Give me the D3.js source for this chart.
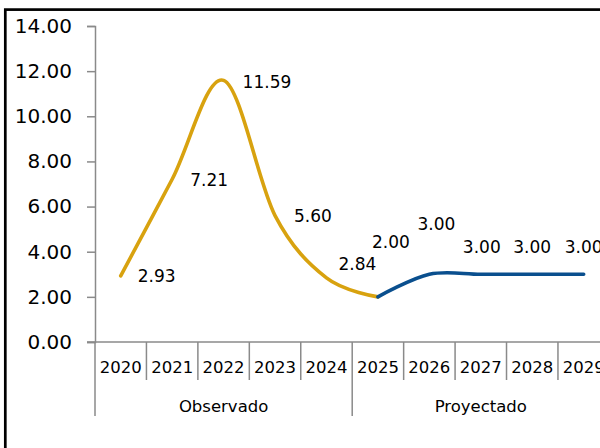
<!DOCTYPE html>
<html>
<head>
<meta charset="utf-8">
<script src="https://cdn.jsdelivr.net/npm/d3@7"></script>
<style>
  html, body { margin: 0; padding: 0; background: #fff; }
  svg { display: block; font-family: "DejaVu Sans", Verdana, sans-serif; }
</style>
</head>
<body>
<svg id="chart" width="600" height="448"></svg>
<script>
// ---- data ----
const years = ["2020","2021","2022","2023","2024","2025","2026","2027","2028","2029"];
const groups = [
  { name: "Observado", from: "2020", to: "2024" },
  { name: "Proyectado", from: "2025", to: "2029" }
];
const observedYears = ["2020","2021","2022","2023","2024","2025"];
const observedValues = [2.93, 7.21, 11.59, 5.60, 2.84, 2.00];
const projectedYears = ["2025","2026","2027","2028","2029"];
const projectedValues = [2.00, 3.00, 3.00, 3.00, 3.00];
const labelYears = years;
const labelValues = [2.93, 7.21, 11.59, 5.60, 2.84, 2.00, 3.00, 3.00, 3.00, 3.00];
const yTicks = [0, 2, 4, 6, 8, 10, 12, 14];

// ---- label placement (style config) ----
const labelNudge = [
  [17, 0, "start"], [18, 1, "start"], [19, 1, "start"], [19, 0, "start"], [12, -14, "start"],
  [13, -55, "middle"], [7, -50, "middle"], [1, -27, "middle"], [0, -27, "middle"], [0, -27, "middle"]
];

// ---- layout ----
const svg = d3.select("#chart");
const x = d3.scaleBand().domain(years).range([95, 609.4]).padding(0);
const y = d3.scaleLinear().domain([0, 14]).range([342, 26]);
const cx = d => x(d) + x.bandwidth() / 2;
const axisColor = "#8a8a8a";

// frame
svg.append("rect")
  .attr("x", 5.3).attr("y", 9.6).attr("width", 700).attr("height", 600)
  .attr("fill", "none").attr("stroke", "#000").attr("stroke-width", 2.7);

// y axis
const yAxis = d3.axisLeft(y).tickValues(yTicks).tickSize(8).tickPadding(15)
  .tickFormat(d3.format(".2f"));
const gy = svg.append("g").attr("transform", "translate(95,0)").call(yAxis);
gy.select(".domain").attr("stroke", axisColor).attr("stroke-width", 1.5);
gy.selectAll(".tick line").attr("stroke", axisColor).attr("stroke-width", 1.5);
gy.selectAll(".tick text").attr("fill", "#000").style("font-size", "20px")
  .style("font-family", "'DejaVu Sans', Verdana, sans-serif");

// x baseline
svg.append("line").attr("x1", 87).attr("x2", 620).attr("y1", y(0)).attr("y2", y(0))
  .attr("stroke", axisColor).attr("stroke-width", 1.5);

// year dividers
const boundaries = years.map(d => x(d)).concat([x(years[years.length - 1]) + x.bandwidth()]);
const groupEdges = new Set();
groups.forEach(g => { groupEdges.add(x(g.from)); groupEdges.add(x(g.to) + x.bandwidth()); });
svg.append("g").selectAll("line").data(boundaries).join("line")
  .attr("x1", d => d).attr("x2", d => d)
  .attr("y1", y(0))
  .attr("y2", d => groupEdges.has(d) ? 416 : 380)
  .attr("stroke", axisColor).attr("stroke-width", 1.5);

// year labels
svg.append("g").selectAll("text").data(years).join("text")
  .attr("x", d => cx(d)).attr("y", 367).attr("dy", "0.36em")
  .attr("text-anchor", "middle").style("font-size", "16.5px").attr("fill", "#000")
  .text(d => d);

// group labels
svg.append("g").selectAll("text").data(groups).join("text")
  .attr("x", g => (x(g.from) + x(g.to) + x.bandwidth()) / 2).attr("y", 406).attr("dy", "0.36em")
  .attr("text-anchor", "middle").style("font-size", "16.5px").attr("fill", "#000")
  .text(g => g.name);

// lines
const line = d3.line().x(d => cx(d[0])).y(d => y(d[1])).curve(d3.curveCardinal.tension(0));
svg.append("path")
  .attr("d", line(observedYears.map((d, i) => [d, observedValues[i]])))
  .attr("fill", "none").attr("stroke", "#D8A20F").attr("stroke-width", 3.6)
  .attr("stroke-linecap", "round").attr("stroke-linejoin", "round");
svg.append("path")
  .attr("d", line(projectedYears.map((d, i) => [d, projectedValues[i]])))
  .attr("fill", "none").attr("stroke", "#0A4F8E").attr("stroke-width", 3.6)
  .attr("stroke-linecap", "round").attr("stroke-linejoin", "round");

// data labels
svg.append("g").selectAll("text").data(labelYears).join("text")
  .attr("x", (d, i) => cx(d) + labelNudge[i][0])
  .attr("y", (d, i) => y(labelValues[i]) + labelNudge[i][1])
  .attr("dy", "0.36em")
  .attr("text-anchor", (d, i) => labelNudge[i][2])
  .style("font-size", "17px").attr("fill", "#000")
  .text((d, i) => d3.format(".2f")(labelValues[i]));
</script>
</body>
</html>
